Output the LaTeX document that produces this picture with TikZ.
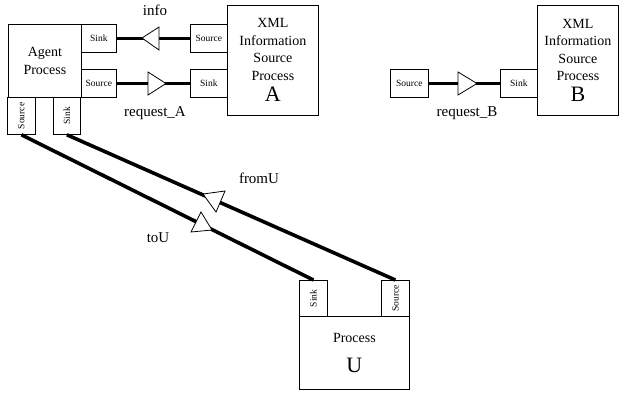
\documentclass[tikz,border=0pt]{standalone}
\usepackage{fontspec}
\setmainfont{Liberation Serif}
\begin{document}
\begin{tikzpicture}[x=1pt,y=-1pt,
  box/.style={draw=black, line width=0.8pt, anchor=north west, inner sep=0pt, align=center},
  port/.style={box, font=\fontsize{9.5}{10}\selectfont},
  proc/.style={box, font=\fontsize{14}{17.5}\selectfont},
  wire/.style={line width=3.6pt},
  flow/.style={draw=black, fill=white, line width=0.8pt, line join=miter},
  lbl/.style={font=\fontsize{15}{17}\selectfont, inner sep=0pt}]
\useasboundingbox (0,0) rectangle (620,392);

% agent process and its ports
\node[proc, minimum width=73pt, minimum height=73pt] (agent) at (8,24) {Agent\\Process};
\node[port, minimum width=35pt, minimum height=28pt] (asink) at (81,24) {Sink};
\node[port, minimum width=35pt, minimum height=28pt] (asrc) at (81,69) {Source};
\node[port, minimum width=28pt, minimum height=37pt] (vsrc) at (7,97) {\rotatebox{90}{Source}};
\node[port, minimum width=27pt, minimum height=37pt] (vsink) at (53,97) {\rotatebox{90}{Sink}};

% information source A
\node[proc, minimum width=91pt, minimum height=110pt] (xa) at (227,5)
  {XML\\Information\\Source\\Process\\[4pt]{\fontsize{22}{23}\selectfont A}};
\node[port, minimum width=37pt, minimum height=28pt] (xsrc) at (190,24) {Source};
\node[port, minimum width=37pt, minimum height=28pt] (xsink) at (190,69) {Sink};

% information source B
\node[proc, minimum width=81pt, minimum height=110pt] (xb) at (537,5)
  {XML\\Information\\Source\\Process\\[3pt]{\fontsize{22}{23}\selectfont B}};
\node[port, minimum width=37pt, minimum height=28pt] (bsink) at (500,69) {Sink};
\node[port, minimum width=38pt, minimum height=28pt] (bsrc) at (390,69) {Source};

% process U
\node[proc, minimum width=110pt, minimum height=73pt] (ubox) at (299,316)
  {Process\\[12pt]{\fontsize{22}{23}\selectfont U}};
\node[port, minimum width=28pt, minimum height=36pt] (usink) at (299,280) {\rotatebox{90}{Sink}};
\node[port, minimum width=28pt, minimum height=36pt] (usrc) at (381,280) {\rotatebox{90}{Source}};

% channels
\draw[wire] (xsrc.west) -- (asink.east);
\draw[wire] (asrc.east) -- (xsink.west);
\draw[wire] (bsrc.east) -- (bsink.west);
\draw[wire] (vsrc.south) -- (usink.north);
\draw[wire] (vsink.south) -- (usrc.north);

% direction markers
\draw[flow] (142,38) -- (159,27) -- (159,50) -- cycle;
\draw[flow] (148,72) -- (148,95) -- (166,83.5) -- cycle;
\draw[flow] (458,72) -- (458,95) -- (477,83.5) -- cycle;
\draw[flow] (203,194) -- (225,191) -- (216,212) -- cycle;
\draw[flow] (201,212) -- (191,232) -- (212,230) -- cycle;

% channel names
\node[lbl] (linfo) at (155,10) {info};
\node[lbl] (lreqa) at (155,113) {request\_A};
\node[lbl] (lreqb) at (467,113) {request\_B};
\node[lbl] (lfrom) at (259,178) {fromU};
\node[lbl] (lto) at (158,238) {toU};
\end{tikzpicture}
\end{document}
